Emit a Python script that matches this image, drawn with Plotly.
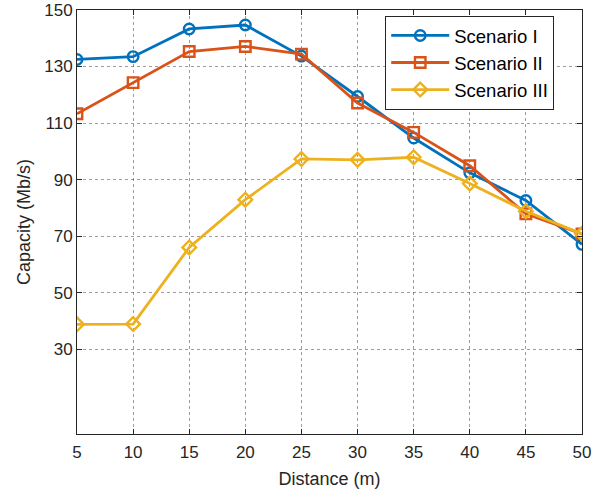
import plotly.graph_objects as go

distance = [5, 10, 15, 20, 25, 30, 35, 40, 45, 50]
scenario_1 = [132.5, 133.5, 143.3, 144.7, 133.7, 119.4, 104.7, 92.4, 82.6, 67.1]
scenario_2 = [113.3, 124.3, 135.3, 137.1, 134.4, 117.1, 106.7, 94.9, 77.9, 70.8]
scenario_3 = [38.8, 38.9, 66.0, 82.9, 97.3, 97.0, 97.9, 88.6, 78.8, 70.8]
y_ticks = [30, 50, 70, 90, 110, 130, 150]

series = [
    ("Scenario I", scenario_1, "#0072BD", "circle-open"),
    ("Scenario II", scenario_2, "#D95319", "square-open"),
    ("Scenario III", scenario_3, "#EDB120", "diamond-open"),
]

FONT = "Liberation Sans, Arial, Helvetica, sans-serif"

fig = go.Figure()
for name, vals, color, sym in series:
    fig.add_trace(go.Scatter(
        x=distance, y=vals, name=name, mode="lines+markers",
        line=dict(color=color, width=2.8),
        marker=dict(symbol=sym, size=10.5, color=color, line=dict(width=2.4, color=color)),
    ))

axis_common = dict(
    showline=True, linecolor="#262626", linewidth=1, mirror="ticks",
    ticks="inside", ticklen=5, tickcolor="#262626",
    showgrid=True, gridcolor="rgba(60,60,60,0.5)", griddash="dot", gridwidth=1,
    zeroline=False, automargin=False,
    tickfont=dict(family=FONT, size=17, color="#262626"),
    title_font=dict(family=FONT, size=18, color="#262626"),
)

fig.update_layout(
    width=608, height=490,
    margin=dict(l=77, r=26, t=10, b=56, autoexpand=False),
    paper_bgcolor="white", plot_bgcolor="white",
    xaxis=dict(range=[5, 50], tickvals=distance, ticklabelstandoff=3,
               title=dict(text="Distance (m)", standoff=10), **axis_common),
    yaxis=dict(range=[0, 150], tickvals=y_ticks,
               title=dict(text="Capacity (Mb/s)", standoff=8), **axis_common),
    legend=dict(
        x=0.945, y=0.986, xanchor="right", yanchor="top",
        bgcolor="white", bordercolor="#262626", borderwidth=1,
        font=dict(family=FONT, size=18.5, color="#000000"),
        itemwidth=58, tracegroupgap=0,
    ),
    showlegend=True,
)

fig.write_html(
    "out.html",
    config={"displayModeBar": False},
    post_script="document.body.style.margin='0';document.body.style.overflow='hidden';",
)
